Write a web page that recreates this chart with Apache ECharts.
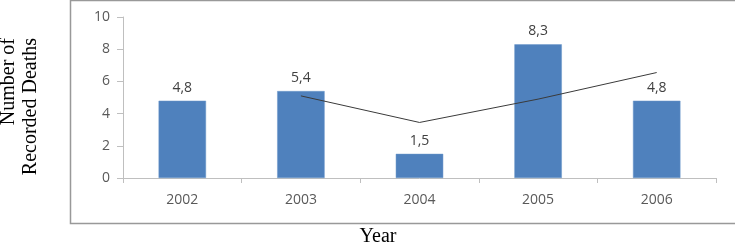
<!DOCTYPE html>
<html>
<head>
<meta charset="utf-8">
<script src="https://cdn.jsdelivr.net/npm/echarts@6/dist/echarts.min.js"></script>
<style>
  html, body { margin: 0; padding: 0; background: #fff; }
  #chart { width: 735px; height: 245px; }
</style>
</head>
<body>
<div id="chart"></div>
<script>
// data
const years = ['2002', '2003', '2004', '2005', '2006'];
const deaths = [4.8, 5.4, 1.5, 8.3, 4.8];
// 2-period moving average trend line (starts at 2003)
const trend = [null, 5.1, 3.45, 4.9, 6.55];
const yTicks = { min: 0, max: 10, step: 2 };

const axisGray = '#bfbfbf';
const textGray = '#595959';

const myChart = echarts.init(document.getElementById('chart'));
myChart.setOption({
    animation: false,
    grid: { left: 123, right: 19, top: 17, bottom: 67 },
    xAxis: {
        type: 'category',
        data: years,
        axisLine: { lineStyle: { color: axisGray } },
        axisTick: { show: true, length: 5, lineStyle: { color: axisGray } },
        axisLabel: { color: textGray, fontFamily: 'Open Sans', fontSize: 14, margin: 15 }
    },
    yAxis: {
        type: 'value',
        min: yTicks.min,
        max: yTicks.max,
        interval: yTicks.step,
        axisLine: { show: true, lineStyle: { color: axisGray } },
        axisTick: { show: true, length: 6, lineStyle: { color: axisGray } },
        splitLine: { show: false },
        axisLabel: { color: textGray, fontFamily: 'Open Sans', fontSize: 14, margin: 13 }
    },
    series: [
        {
            type: 'bar',
            data: deaths,
            barWidth: '40%',
            itemStyle: { color: '#4F81BD', borderColor: '#6b96c8', borderWidth: 0.5 },
            label: {
                show: true,
                position: 'top',
                distance: 6,
                color: '#404040',
                fontFamily: 'Open Sans',
                fontSize: 14,
                formatter: p => String(p.value).replace('.', ',')
            }
        },
        {
            type: 'line',
            data: trend,
            symbol: 'none',
            connectNulls: false,
            lineStyle: { color: '#3a3a3a', width: 1 }
        }
    ],
    graphic: [
        {
            type: 'rect',
            shape: { x: 70.5, y: 0.5, width: 700, height: 223 },
            style: { fill: 'none', stroke: '#999', lineWidth: 1.5 },
            silent: true
        },
        {
            type: 'text',
            x: 20, y: 38,
            rotation: Math.PI / 2,
            style: {
                text: 'Number of\nRecorded Deaths',
                font: '20px "Liberation Serif"',
                fill: '#000',
                align: 'right',
                verticalAlign: 'middle',
                lineHeight: 22
            }
        },
        {
            type: 'text',
            x: 378, y: 237,
            style: {
                text: 'Year',
                font: '20px "Liberation Serif"',
                fill: '#000',
                align: 'center',
                verticalAlign: 'middle'
            }
        }
    ]
});
</script>
</body>
</html>
